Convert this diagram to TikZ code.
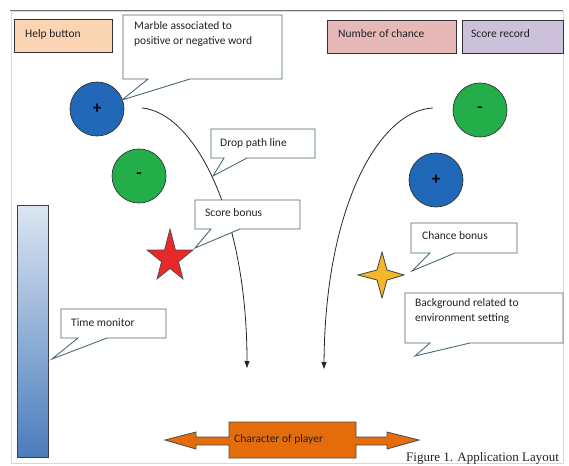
\documentclass[tikz,border=0pt]{standalone}
\usepackage{fontspec}
\setmainfont{Carlito}
\newfontfamily\capfont{Liberation Serif}
\usetikzlibrary{arrows.meta}
\definecolor{calloutline}{HTML}{4A6A78}
\definecolor{helpfill}{HTML}{FBD4B4}
\definecolor{chancefill}{HTML}{E6B8B7}
\definecolor{scorefill}{HTML}{CCC1DA}
\definecolor{marbleblue}{HTML}{2168B8}
\definecolor{marblegreen}{HTML}{23AE4A}
\definecolor{starred}{HTML}{E8292A}
\definecolor{staryellow}{HTML}{F5B62A}
\definecolor{playerorange}{HTML}{E46C0A}
\definecolor{bartop}{HTML}{DCE6F2}
\definecolor{barbottom}{HTML}{4A7CBC}
\definecolor{framepink}{HTML}{F4CFC0}
\definecolor{textcol}{HTML}{222222}
\newcommand{\mycallout}[8]{\draw[calloutbox] (#1,#2) -- (#3,#2) -- (#3,#4) -- (#6,#4) -- (#7,#8) -- (#5,#4) -- (#1,#4) -- cycle;}
\begin{document}
\begin{tikzpicture}[x=1pt,y=-1pt,
  every node/.style={text=textcol,font=\fontsize{11.5}{15}\selectfont},
  labeltext/.style={anchor=west,inner sep=0pt,align=left},
  calloutbox/.style={draw=calloutline,fill=white,line width=0.9pt,line join=miter},
  topbox/.style={draw=black!80,line width=0.9pt},
  marble/.style={circle,draw=black!80,line width=0.7pt,minimum size=54pt,inner sep=0pt,text=black,font=\fontsize{17}{17}\bfseries\selectfont},
  droppath/.style={draw=black!85,line width=0.8pt,-{Triangle[length=7pt,width=5pt]}}]
\useasboundingbox (0,0) rectangle (569,465);
% frame
\draw[framepink,line width=1pt] (11,12) rectangle (563,463);
\draw[black!55,line width=0.8pt] (10,10) -- (563,10);
% top boxes
\draw[topbox,fill=helpfill] (14,19) rectangle (112,52);
\node[labeltext] (help) at (25,34) {Help button};
\draw[topbox,fill=chancefill] (327,20) rectangle (456,53);
\node[labeltext] (chance) at (338,34) {Number of chance};
\draw[topbox,fill=scorefill] (462,20) rectangle (563,53);
\node[labeltext] (score) at (471,34) {Score record};
% marbles
\node[marble,fill=marbleblue] (m1) at (97,109) {+};
\node[marble,fill=marblegreen] (m2) at (139,176) {-};
\node[marble,fill=marblegreen] (m3) at (480,110) {-};
\node[marble,fill=marbleblue] (m4) at (436,180) {+};
% drop paths
\coordinate (d1s) at (142,108);
\coordinate (d1e) at (247,368);
\coordinate (d2s) at (433,108);
\coordinate (d2e) at (324,369);
\draw[droppath] (d1s) .. controls (195,113) and (247,215) .. (d1e);
\draw[droppath] (d2s) .. controls (380,110) and (325,205) .. (d2e);
% time bar
\draw[top color=bartop,bottom color=barbottom,draw=black!75,line width=0.8pt] (17,205) rectangle (48,457);
% stars
\draw[fill=starred,draw=black!70,line width=0.7pt,line join=miter]
  (170,229) -- (175.5,250) -- (193,250) -- (178.5,261.7) -- (183,279) -- (170,268.5)
  -- (157,279) -- (161.5,261.7) -- (147,250) -- (164.5,250) -- cycle;
\draw[fill=staryellow,draw=black!75,line width=0.8pt,line join=miter]
  (382,252) -- (387,270) -- (404,275) -- (387,280) -- (382,298) -- (377,280)
  -- (358,275) -- (377,270) -- cycle;
% callouts
\mycallout{123}{15}{282}{79}{148}{190}{122}{100}
\node[labeltext,anchor=north west] (marbletext) at (134,21) {Marble associated to\\positive or negative word};
\mycallout{211}{129}{315}{158}{224}{247}{213}{176}
\node[labeltext] (droptext) at (220,143) {Drop path line};
\mycallout{195}{200}{300}{229}{211}{240}{195}{248}
\node[labeltext] (scoretext) at (205,213) {Score bonus};
\mycallout{61}{309}{166}{338}{78}{107}{52}{359}
\node[labeltext] (timetext) at (71,323) {Time monitor};
\mycallout{411}{223}{517}{253}{430}{455}{412}{271}
\node[labeltext] (chancetext) at (422,236) {Chance bonus};
\mycallout{405}{293}{563}{343}{430}{470}{415}{356}
\node[labeltext,anchor=north west] (bgtext) at (415,298) {Background related to\\environment setting};
% player arrow
\draw[fill=playerorange,draw=black!70,line width=0.8pt,line join=miter]
  (165,440) -- (196,432) -- (196,437) -- (229,437) -- (229,422) -- (356,422) -- (356,437)
  -- (387,437) -- (387,432) -- (419,440) -- (387,449) -- (387,445) -- (356,445)
  -- (356,458) -- (229,458) -- (229,445) -- (196,445) -- (196,449) -- cycle;
\node[labeltext] (player) at (234,439) {Character of player};
% caption
\node[anchor=base west,inner sep=0pt,font=\capfont\fontsize{13}{15}\selectfont] (caption) at (406,461) {Figure 1. Application Layout};
\end{tikzpicture}
\end{document}
